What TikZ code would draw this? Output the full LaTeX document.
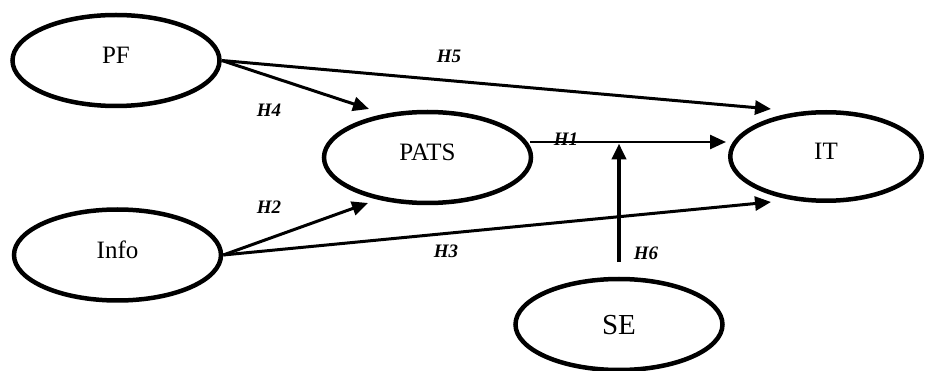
\documentclass[tikz,border=0pt]{standalone}
\usepackage{fontspec}
\setmainfont{Liberation Serif}
\usetikzlibrary{arrows.meta,shapes.geometric}
\begin{document}
\begin{tikzpicture}[x=1pt,y=-1pt,
  var/.style={ellipse, draw, line width=4.5pt, minimum width=207pt, minimum height=91pt,
    inner sep=0pt, font=\fontsize{25}{29}\selectfont, text depth=11pt},
  hyp/.style={font=\fontsize{19}{21}\selectfont\bfseries\itshape, inner sep=0pt},
  conn/.style={line width=3pt, -{Triangle[length=16pt,width=14pt]}},
]
\useasboundingbox (0,0) rectangle (929,371);
% constructs
\node[var] (PF)   at (116,60.5)   {PF};
\node[var] (Info) at (117.5,255)  {Info};
\node[var] (PATS) at (427.5,157.5){PATS};
\node[var, minimum width=191.5pt, minimum height=88.5pt] (IT) at (826,156.5) {IT};
\node[var, text depth=0pt, font=\fontsize{29}{33}\selectfont] (SE) at (619,324.5) {SE};
% arrow tips near the targets
\coordinate (t4) at (369,109);
\coordinate (t5) at (771,109);
\coordinate (t2) at (368,203);
\coordinate (t3) at (771,202);
\coordinate (h1s) at (530,142);
\coordinate (h1e) at (726,142);
% connectors
\draw[conn] (PF.east) -- (t4);
\draw[conn] (PF.east) -- (t5);
\draw[conn] (Info.east) -- (t2);
\draw[conn] (Info.east) -- (t3);
\draw[conn, line width=2.5pt] (h1s) -- (h1e);
\draw[conn, line width=4pt, shorten <=14.5pt, shorten >=1.5pt] (SE.north) -- (SE.north |- h1s);
% labels
\node[hyp] (L4) at (269,110) {H4};
\node[hyp] (L5) at (449,56)  {H5};
\node[hyp] (L2) at (269,207) {H2};
\node[hyp] (L3) at (446,251) {H3};
\node[hyp] (L1) at (566,139) {H1};
\node[hyp] (L6) at (646,253) {H6};
\end{tikzpicture}
\end{document}
